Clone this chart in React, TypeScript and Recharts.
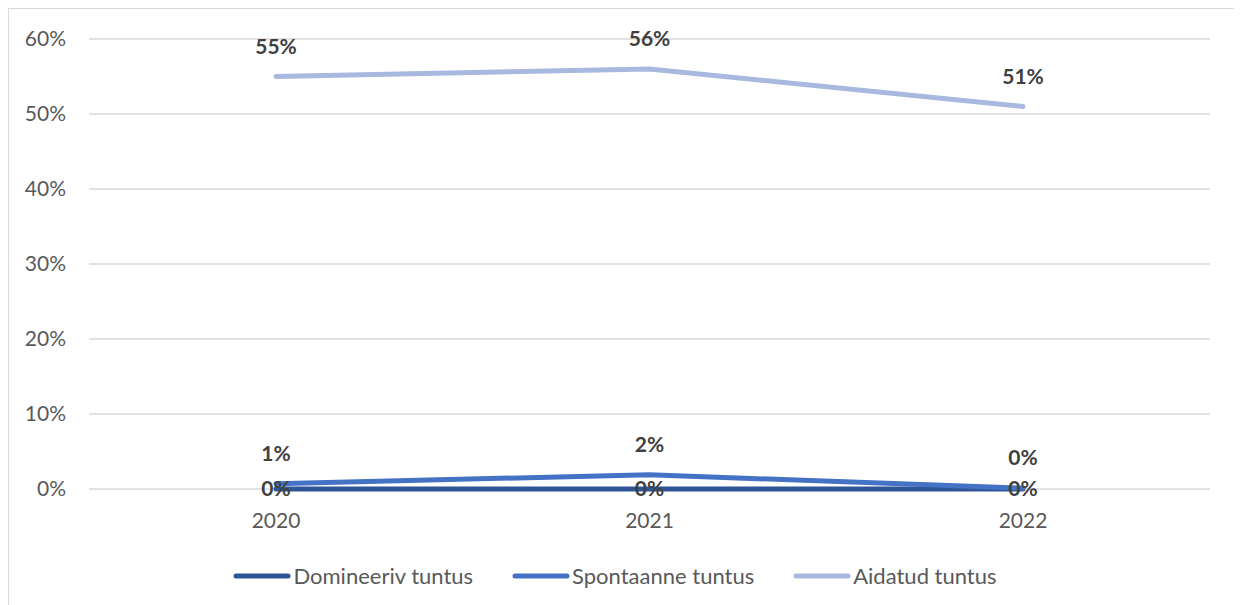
import React from 'react';
import { LineChart, Line, XAxis, YAxis, CartesianGrid, Legend, LabelList } from 'recharts';

const years = ['2020', '2021', '2022'];
const domineeriv = [0, 0, 0];
const spontaanne = [0.7, 1.9, 0.1];
const aidatud = [55, 56, 51];
const yTicks = [0, 10, 20, 30, 40, 50, 60];

const series = [
  { key: 'dom', name: 'Domineeriv tuntus', color: '#2F5597', values: domineeriv, labelPos: 'center' },
  { key: 'spon', name: 'Spontaanne tuntus', color: '#4472C4', values: spontaanne, labelPos: 'top' },
  { key: 'aid', name: 'Aidatud tuntus', color: '#A9B8DE', values: aidatud, labelPos: 'top' },
];

const data = years.map((year, i) => ({
  year,
  dom: domineeriv[i],
  spon: spontaanne[i],
  aid: aidatud[i],
}));

const FONT = 'Lato, "Noto Sans", sans-serif';

const fmtLabel = (v: any) => `${Math.round(Number(v))}%`;

const LegendContent: React.FC<any> = () => (
  <div style={{ display: 'flex', justifyContent: 'center', gap: 38, fontFamily: FONT, fontSize: 22, color: '#595959', paddingLeft: 10 }}>
    {series.map((s) => (
      <div key={s.key} style={{ display: 'flex', alignItems: 'center' }}>
        <svg width={60} height={10} style={{ marginRight: 1 }}>
          <line x1={4} y1={5} x2={56} y2={5} stroke={s.color} strokeWidth={5} strokeLinecap="round" />
        </svg>
        <span>{s.name}</span>
      </div>
    ))}
  </div>
);

const App: React.FC = () => {
  return (
    <div style={{ width: 1231, height: 610, border: '1px solid #d9d9d9', background: '#fff', boxSizing: 'border-box' }}>
      <LineChart width={1229} height={595} data={data} margin={{ top: 30, right: 28, left: 0, bottom: 0 }}>
        <CartesianGrid vertical={false} stroke="#d9d9d9" strokeWidth={1.3} />
        <XAxis
          dataKey="year"
          axisLine={false}
          tickLine={false}
          height={65}
          tickMargin={18}
          padding={{ left: 187, right: 187 }}
          tick={{ fill: '#595959', fontSize: 21, fontFamily: FONT }}
        />
        <YAxis
          domain={[0, 60]}
          ticks={yTicks}
          width={80}
          axisLine={false}
          tickLine={false}
          tickMargin={17}
          tickFormatter={(v) => `${v}%`}
          tick={{ fill: '#595959', fontSize: 21, fontFamily: FONT }}
        />
        <Legend verticalAlign="bottom" height={50} content={<LegendContent />} wrapperStyle={{ bottom: -8 }} />
        {series.map((s) => (
          <Line
            key={s.key}
            type="linear"
            dataKey={s.key}
            name={s.name}
            stroke={s.color}
            strokeWidth={5}
            strokeLinecap="round"
            dot={false}
            activeDot={false}
            isAnimationActive={false}
          >
            <LabelList
              dataKey={s.key}
              position={s.labelPos as any}
              offset={23}
              formatter={fmtLabel}
              style={{ fill: '#404040', fontSize: 21, fontWeight: 700, fontFamily: FONT }}
            />
          </Line>
        ))}
      </LineChart>
    </div>
  );
};

export default App;
